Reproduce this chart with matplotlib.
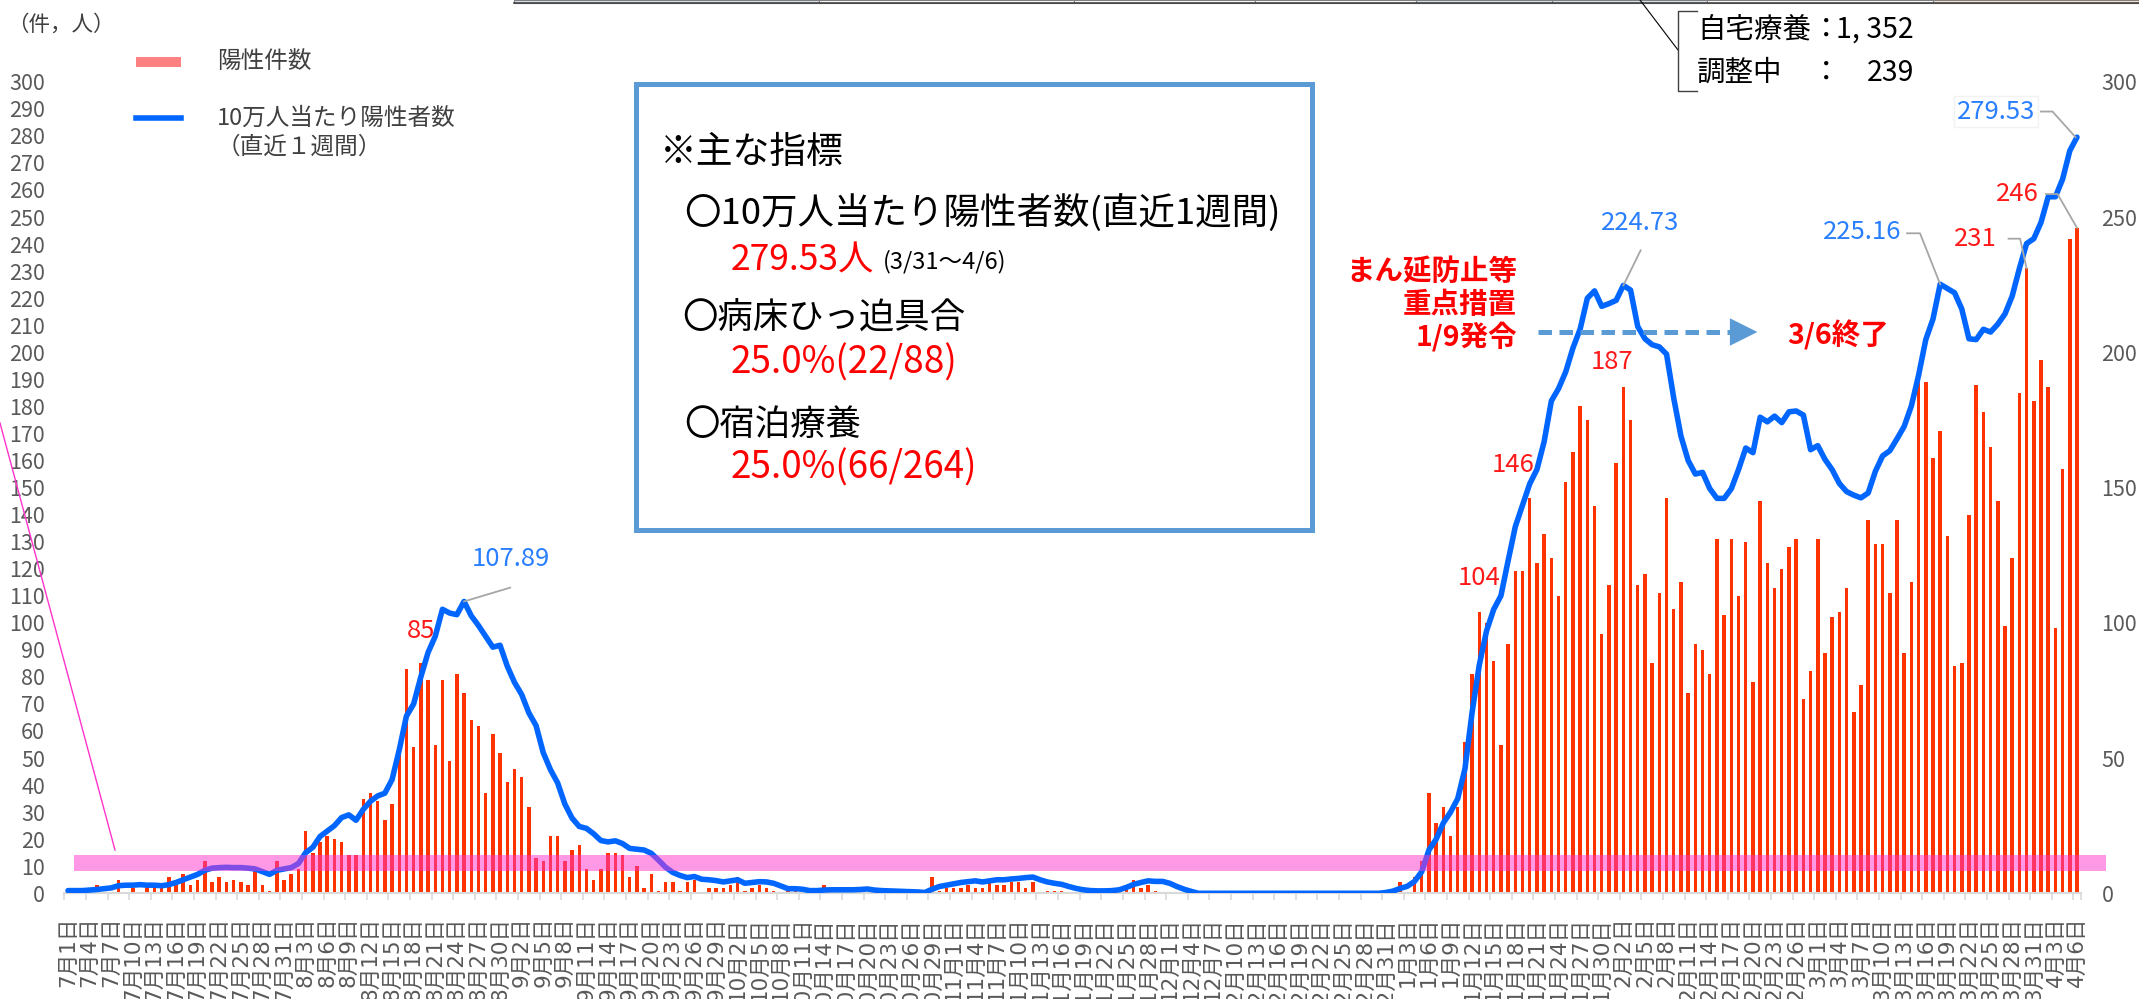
import numpy as np
import pandas as pd
import matplotlib
matplotlib.use("Agg")
import matplotlib.pyplot as plt
from matplotlib.patches import Rectangle
from matplotlib.lines import Line2D

plt.rcParams['font.family'] = ['Noto Sans CJK JP', 'DejaVu Sans']

# 日付（7/1〜4/6）
dates = pd.date_range('2021-07-01', '2022-04-06', freq='D')
days = np.arange(len(dates))
tick_labels = [f"{d.month}月{d.day}日" for d in dates[::3]]

# 陽性件数（日別）
cases = [
    0, 0, 0, 0, 3, 0, 0, 5, 0, 2, 0, 3, 3, 3, 6, 4, 7, 3, 5, 12,
    4, 6, 4, 5, 4, 3, 9, 3, 1, 12, 5, 7, 9, 23, 15, 19, 21, 20, 19, 14,
    14, 35, 37, 34, 27, 33, 56, 83, 54, 85, 79, 55, 79, 49, 81, 74, 64, 62, 37, 59,
    52, 41, 46, 43, 32, 13, 12, 21, 21, 12, 16, 18, 9, 5, 9, 15, 15, 14, 6, 10,
    2, 7, 1, 4, 4, 1, 4, 5, 0, 2, 2, 2, 3, 6, 1, 2, 3, 2, 1, 0,
    1, 1, 0, 0, 0, 3, 0, 0, 0, 0, 0, 0, 0, 0, 0, 0, 0, 0, 0, 0,
    6, 1, 2, 2, 2, 3, 2, 2, 5, 3, 3, 4, 4, 2, 4, 0, 1, 1, 1, 0,
    0, 0, 0, 0, 0, 1, 0, 3, 5, 2, 3, 1, 0, 0, 0, 0, 0, 0, 0, 0,
    0, 0, 0, 0, 0, 0, 0, 0, 0, 0, 0, 0, 0, 0, 0, 0, 0, 0, 0, 0,
    0, 0, 0, 1, 0, 4, 0, 6, 12, 37, 26, 32, 21, 32, 56, 81, 104, 100, 86, 55,
    92, 119, 119, 146, 122, 133, 124, 110, 152, 163, 180, 175, 143, 96, 114, 159, 187, 175, 114, 118,
    85, 111, 146, 105, 115, 74, 92, 90, 81, 131, 103, 131, 110, 130, 78, 145, 122, 113, 120, 128,
    131, 72, 82, 131, 89, 102, 104, 113, 67, 77, 138, 129, 129, 111, 138, 89, 115, 190, 189, 161,
    171, 132, 84, 85, 140, 188, 178, 165, 145, 99, 124, 185, 231, 182, 197, 187, 98, 157, 242, 246,
]

# 10万人当たり陽性者数（直近1週間）
per100k = [
    1.0, 1.0, 1.0, 1.2, 1.4, 1.7, 2.0, 2.8, 3.0, 3.0, 3.2, 3.0, 3.0, 2.8, 3.2, 4.0, 5.0, 6.0, 7.0, 8.5,
    9.3, 9.5, 9.6, 9.5, 9.5, 9.3, 9.0, 8.0, 7.0, 8.5, 9.0, 9.5, 11.0, 15.0, 17.0, 21.0, 23.0, 25.0, 28.0, 29.0,
    27.0, 31.0, 34.0, 36.0, 37.0, 42.0, 53.0, 65.5, 70.0, 80.0, 89.0, 95.0, 105.0, 103.6, 103.0, 107.89, 102.6, 99.0, 95.0, 91.0,
    91.7, 84.0, 78.0, 73.5, 66.7, 62.0, 52.0, 45.7, 40.8, 33.0, 27.8, 24.7, 24.0, 22.0, 19.5, 19.0, 19.4, 18.4, 16.6, 16.3,
    16.0, 14.8, 12.3, 9.6, 7.7, 6.6, 5.8, 6.2, 5.2, 5.0, 4.7, 4.2, 4.6, 5.0, 3.7, 4.0, 4.3, 4.2, 3.7, 2.7,
    1.7, 1.7, 1.5, 1.0, 1.0, 1.2, 1.3, 1.3, 1.3, 1.3, 1.4, 1.6, 1.2, 1.0, 0.9, 0.8, 0.7, 0.6, 0.5, 0.3,
    1.5, 2.5, 3.0, 3.5, 4.0, 4.3, 4.6, 4.2, 4.6, 5.0, 5.0, 5.3, 5.5, 5.8, 6.0, 5.0, 4.2, 3.7, 3.3, 2.5,
    1.8, 1.3, 1.0, 0.9, 0.9, 1.0, 1.3, 2.2, 3.3, 4.0, 4.6, 4.4, 4.4, 3.7, 2.5, 1.5, 0.7, 0.0, 0.0, 0.0,
    0.0, 0.0, 0.0, 0.0, 0.0, 0.0, 0.0, 0.0, 0.0, 0.0, 0.0, 0.0, 0.0, 0.0, 0.0, 0.0, 0.0, 0.0, 0.0, 0.0,
    0.0, 0.0, 0.0, 0.3, 0.8, 1.8, 2.6, 4.4, 8.0, 16.0, 20.0, 26.0, 30.0, 35.0, 46.0, 67.0, 84.5, 97.0, 105.0, 110.0,
    123.0, 135.6, 143.5, 151.4, 156.7, 167.0, 182.0, 186.6, 192.8, 201.6, 208.6, 220.0, 222.7, 217.0, 218.0, 219.2, 224.73, 223.0, 209.5, 205.0,
    202.8, 202.0, 199.3, 183.0, 169.0, 160.0, 155.0, 155.6, 149.6, 146.0, 146.0, 149.6, 156.7, 164.6, 162.9, 176.0, 174.3, 176.4, 174.0, 178.0,
    178.3, 176.8, 164.0, 165.5, 160.4, 156.6, 151.5, 148.5, 147.2, 146.2, 148.0, 156.0, 161.7, 163.6, 168.0, 172.6, 180.2, 191.5, 204.7, 212.3,
    225.16, 223.6, 222.0, 216.0, 205.0, 204.7, 208.5, 207.5, 210.4, 214.2, 220.8, 231.0, 240.2, 242.0, 248.0, 257.5, 257.5, 264.0, 274.5, 279.53,
]

W, H = 2139, 999
def fx(x):
    return x / W
def fy(y):
    return 1 - y / H

fig = plt.figure(figsize=(W / 100, H / 100), dpi=100)
ax = fig.add_axes([fx(64.4), fy(893.3), fx(2080.6) - fx(64.4), fy(81.8) - fy(893.3)])

gray = '#595959'
red_bar = '#ff3300'
blue = '#0066ff'
blue_lbl = '#2a7fff'
lead = '#a6a6a6'

ax.bar(days, cases, width=0.48, color=red_bar, zorder=2)
ax.plot(days, per100k, color=blue, lw=4, zorder=3, solid_joinstyle='round', solid_capstyle='round')

# ピンクの帯
ax.add_patch(Rectangle((0.8, 8.4), 282.2, 5.8, facecolor='#ff33cc', edgecolor='none',
                       alpha=0.5, zorder=4, clip_on=False))

ax.set_xlim(-0.5, 279.5)
ax.set_ylim(0, 300)
ax.set_yticks(range(0, 301, 10))
ax.tick_params(axis='y', length=0, pad=14, labelsize=15.5, labelcolor=gray)
ax.set_xticks(days[::3])
ax.set_xticklabels(tick_labels, rotation=90, fontsize=15.5, color=gray,
                   family=['DejaVu Sans', 'Noto Sans CJK JP'])
ax.tick_params(axis='x', which='major', length=0, pad=17)
minor = list(np.arange(-0.5, 279, 3)) + [279.5]
ax.set_xticks(minor, minor=True)
ax.tick_params(axis='x', which='minor', length=5, width=1.2, color='#d9d9d9')
for s in ['top', 'left', 'right']:
    ax.spines[s].set_visible(False)
ax.spines['bottom'].set_color('#d9d9d9')
ax.spines['bottom'].set_linewidth(1.5)

ax2 = ax.twinx()
ax2.set_ylim(0, 300)
ax2.set_yticks(range(0, 301, 50))
ax2.tick_params(axis='y', length=0, pad=15, labelsize=15.5, labelcolor=gray)
for s in ax2.spines.values():
    s.set_visible(False)

# データラベル
for d, v, t, ha in [(49, 97, '85', 'center'), (196, 116.7, '104', 'center'),
                    (200.7, 158.5, '146', 'center'), (214.5, 196.3, '187', 'center'),
                    (267.8, 242, '231', 'right'), (273.7, 258.5, '246', 'right')]:
    ax.text(d, v, t, color='#ff1a1a', fontsize=18.5, ha=ha, va='center', zorder=6)

ax.text(61.5, 123.5, '107.89', color=blue_lbl, fontsize=18.5, ha='center', va='center', zorder=6)
ax.plot([55, 61.4], [107.89, 113], color=lead, lw=1.3, zorder=5)
ax.text(218.4, 247.7, '224.73', color=blue_lbl, fontsize=18.5, ha='center', va='center', zorder=6)
ax.plot([216, 218.4], [224.73, 237.7], color=lead, lw=1.3, zorder=5)
ax.text(254.6, 244.5, '225.16', color=blue_lbl, fontsize=18.5, ha='right', va='center', zorder=6)
ax.plot([255.4, 257.2, 260], [244, 244, 225.16], color=lead, lw=1.3, zorder=5)
ax.plot([269.5, 271.1, 272], [242, 242, 231], color=lead, lw=1.3, zorder=5)
ax.plot([274.7, 276.3, 279], [258.5, 258.5, 246], color=lead, lw=1.3, zorder=5)
ax.text(273.2, 289, '279.53', color=blue_lbl, fontsize=18.5, ha='right', va='center', zorder=6,
        bbox=dict(facecolor='white', edgecolor='#f2f2f2', pad=2), clip_on=False)
ax.plot([274, 275.6, 278.8], [289, 289, 279.53], color=lead, lw=1.3, zorder=5, clip_on=False)

# まん延防止等重点措置
for y, t in [(272, 'まん延防止等'), (305, '重点措置'), (337, '1/9発令')]:
    fig.text(fx(1517), fy(y), t, color='#ff0000', fontsize=20.5, fontweight='bold',
             ha='right', va='center')
fig.text(fx(1787), fy(335), '3/6終了', color='#ff0000', fontsize=20.5, fontweight='bold',
         ha='left', va='center')
ax.plot([204.1, 232.3], [207.5, 207.5], color='#5b9bd5', lw=3.6, ls=(0, (2.7, 1.5)), zorder=5)
ax.annotate('', xy=(235, 207.5), xytext=(232, 207.5), zorder=5,
            arrowprops=dict(arrowstyle='-|>,head_length=0.9,head_width=0.45',
                            color='#5b9bd5', lw=0, mutation_scale=22))

# 主な指標ボックス
fig.patches.append(Rectangle((fx(636), fy(530)), fx(1312) - fx(636), fy(84) - fy(530),
                             transform=fig.transFigure, facecolor='white',
                             edgecolor='#5b9bd5', lw=3.6, zorder=10))
box_txt = [
    (660, 152, '※主な指標', 'black', 26.5),
    (684, 213, '〇10万人当たり陽性者数(直近1週間)', 'black', 26.3),
    (731, 260, '279.53人', '#ff0000', 25.5),
    (883, 262, '(3/31～4/6)', 'black', 17),
    (682, 318, '〇病床ひっ迫具合', 'black', 25.5),
    (731, 363, '25.0%(22/88)', '#ff0000', 26.5),
    (684, 425, '〇宿泊療養', 'black', 25.5),
    (731, 468, '25.0%(66/264)', '#ff0000', 26.5),
]
for x, y, t, c, fs in box_txt:
    fig.text(fx(x), fy(y), t, color=c, fontsize=fs, ha='left', va='center', zorder=11)

# 凡例
fig.text(fx(7), fy(25), '（件，人）', color='#404040', fontsize=15.5, ha='left', va='center')
fig.patches.append(Rectangle((fx(136), fy(66.7)), fx(181) - fx(136), fy(56.7) - fy(66.7),
                             transform=fig.transFigure, facecolor='#ff8080', edgecolor='none'))
fig.lines.append(Line2D([fx(136), fx(181)], [fy(118), fy(118)], transform=fig.transFigure,
                        color=blue, lw=4))
fig.text(fx(217), fy(61.7), '陽性件数', color='#404040', fontsize=17, ha='left', va='center')
fig.text(fx(217), fy(118), '10万人当たり陽性者数', color='#404040', fontsize=17, ha='left', va='center')
fig.text(fx(217), fy(147), '（直近１週間）', color='#404040', fontsize=17, ha='left', va='center')

# 上部の表（見切れ部分）
cells = [(514, 819, '#dae3f3'), (819, 1074, 'white'), (1074, 1255, 'white'),
         (1255, 1416, 'white'), (1416, 1552, '#dae3f3'), (1552, 1707, '#dae3f3'),
         (1707, 1933, 'white'), (1933, 2139, '#fbe5d6')]
for x0, x1, c in cells:
    fig.patches.append(Rectangle((fx(x0), fy(3)), fx(x1) - fx(x0), fy(0) - fy(3),
                                 transform=fig.transFigure, facecolor=c,
                                 edgecolor='#7f7f7f', lw=0.8))
fig.lines.append(Line2D([fx(514), fx(2139)], [fy(3), fy(3)], transform=fig.transFigure,
                        color='#404040', lw=1.2))

# 自宅療養・調整中
fig.lines.append(Line2D([fx(1640), fx(1678)], [fy(0), fy(50)], transform=fig.transFigure,
                        color='black', lw=0.8))
fig.lines.append(Line2D([fx(1697), fx(1678), fx(1678), fx(1697)],
                        [fy(11), fy(11), fy(91), fy(91)], transform=fig.transFigure,
                        color='#404040', lw=1.0))
for y, a, b in [(30, '自宅療養', '1, 352'), (73, '調整中', '239')]:
    fig.text(fx(1697), fy(y), a, color='black', fontsize=20.5, ha='left', va='center')
    fig.text(fx(1826), fy(y), '：', color='black', fontsize=20.5, ha='center', va='center')
    fig.text(fx(1914), fy(y), b, color='black', fontsize=20.5, ha='right', va='center')

# ピンクの引き出し線
fig.lines.append(Line2D([fx(0), fx(115)], [fy(423), fy(850)], transform=fig.transFigure,
                        color='#ff33cc', lw=1.0))

fig.savefig('out.png', dpi=100)
